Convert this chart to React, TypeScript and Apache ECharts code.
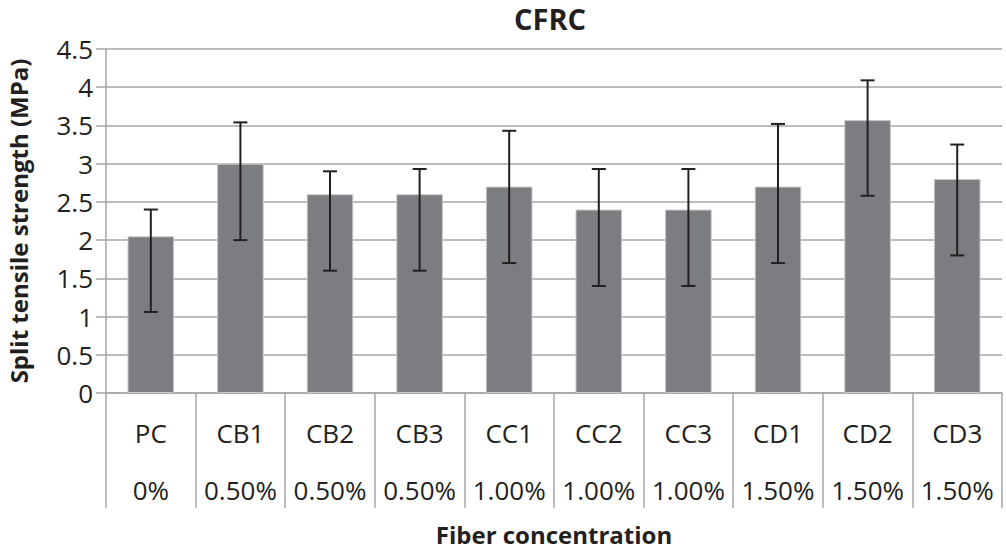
import React, { useEffect, useRef } from "react";
import * as echarts from "echarts";

const categories = ["PC", "CB1", "CB2", "CB3", "CC1", "CC2", "CC3", "CD1", "CD2", "CD3"];
const fiberPct = ["0%", "0.50%", "0.50%", "0.50%", "1.00%", "1.00%", "1.00%", "1.50%", "1.50%", "1.50%"];
const strength = [2.05, 3.0, 2.6, 2.6, 2.7, 2.4, 2.4, 2.7, 3.57, 2.8];
const errLow = [1.06, 2.0, 1.6, 1.6, 1.7, 1.4, 1.4, 1.7, 2.58, 1.8];
const errHigh = [2.4, 3.54, 2.9, 2.93, 3.43, 2.93, 2.93, 3.52, 4.09, 3.25];

const FONT = "Open Sans";
const TXT = "#231f20";
const GRID = "#a6a6a6";

export default function App() {
  const ref = useRef<HTMLDivElement>(null);
  useEffect(() => {
    if (!ref.current) return;
    const chart = echarts.init(ref.current, null, { renderer: "svg" });
    chart.setOption({
      animation: false,
      backgroundColor: "#ffffff",
      title: {
        text: "CFRC",
        left: 550,
        textAlign: "center",
        top: 3,
        padding: 0,
        textStyle: { fontFamily: FONT, fontSize: 29, lineHeight: 30, fontWeight: "bold", color: TXT },
      },
      grid: { left: 106, right: 4, top: 49, bottom: 157, containLabel: false, outerBoundsMode: "none" },
      xAxis: {
        type: "category",
        data: categories,
        boundaryGap: true,
        name: "Fiber concentration",
        nameLocation: "middle",
        nameGap: 129,
        nameTextStyle: { fontFamily: FONT, fontSize: 24, lineHeight: 24, fontWeight: "bold", color: TXT },
        axisLine: { show: true, lineStyle: { color: GRID, width: 1.5 } },
        axisTick: { show: true, length: 115, interval: 0, lineStyle: { color: GRID, width: 1.5 } },
        axisLabel: {
          interval: 0,
          margin: 11,
          formatter: (v: string, idx: number) => `{a|${v}}\n{b|${fiberPct[idx]}}`,
          rich: {
            a: { fontFamily: FONT, fontSize: 26, color: TXT, lineHeight: 57 },
            b: { fontFamily: FONT, fontSize: 26, color: TXT, lineHeight: 57 },
          },
        },
      },
      yAxis: {
        type: "value",
        min: 0,
        max: 4.5,
        interval: 0.5,
        name: "Split tensile strength (MPa)",
        nameLocation: "middle",
        nameGap: 76,
        nameTextStyle: { fontFamily: FONT, fontSize: 24, fontWeight: "bold", color: TXT },
        axisLine: { show: true, lineStyle: { color: GRID, width: 1.5 } },
        axisTick: { show: true, length: 10, lineStyle: { color: GRID, width: 1.5 } },
        axisLabel: { fontFamily: FONT, fontSize: 26, color: TXT, margin: 13 },
        splitLine: { show: true, lineStyle: { color: GRID, width: 1.5 } },
      },
      series: [
        {
          type: "bar",
          data: strength,
          barWidth: "52%",
          itemStyle: { color: "#7c7d81", borderColor: "#c8c8ca", borderWidth: 1 },
        },
        {
          type: "custom",
          data: categories.map((_, i) => [i, errLow[i], errHigh[i]]),
          encode: { x: 0, y: [1, 2] },
          z: 10,
          renderItem: (params: any, api: any) => {
            const x = api.value(0);
            const lo = api.coord([x, api.value(1)]);
            const hi = api.coord([x, api.value(2)]);
            const hw = 7;
            const style = { stroke: TXT, lineWidth: 2 };
            return {
              type: "group",
              children: [
                { type: "line", shape: { x1: lo[0], y1: lo[1], x2: hi[0], y2: hi[1] }, style },
                { type: "line", shape: { x1: hi[0] - hw, y1: hi[1], x2: hi[0] + hw, y2: hi[1] }, style },
                { type: "line", shape: { x1: lo[0] - hw, y1: lo[1], x2: lo[0] + hw, y2: lo[1] }, style },
              ],
            };
          },
        },
      ],
    });
    return () => chart.dispose();
  }, []);
  return (
    <div
      ref={ref}
      style={{ position: "fixed", left: 0, top: 0, width: 1006, height: 550, background: "#fff" }}
    />
  );
}
